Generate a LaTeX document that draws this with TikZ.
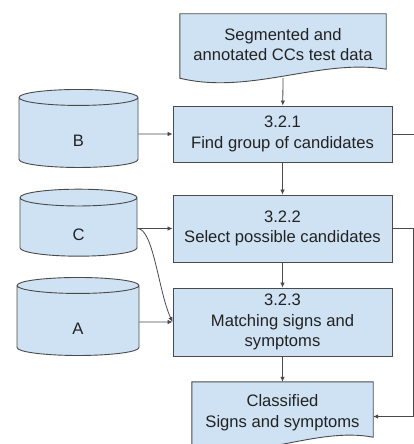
\documentclass[tikz,border=0pt]{standalone}
\usepackage{fontspec}
\setmainfont{Liberation Sans}
\usetikzlibrary{
    backgrounds,
    arrows.meta,
    calc,
    shapes.geometric
}

\definecolor{boxblue}{HTML}{CFE2F3}
\definecolor{linegray}{HTML}{4A4A4A}
\definecolor{textgray}{HTML}{222222}

\tikzset{
    proc/.style={rectangle, draw=linegray, fill=boxblue, line width=0.9pt,
        minimum width=219pt, align=center, text=textgray, inner sep=0pt},
    store/.style={cylinder, shape border rotate=90, aspect=0.9, draw=linegray,
        fill=boxblue, line width=0.9pt, text=textgray, text height=24pt},
    doc/.style={rectangle, minimum height=61pt, align=center, text=textgray, inner sep=0pt},
    docline/.style={draw=linegray, fill=boxblue, line width=0.9pt},
    flow/.style={draw=linegray, line width=0.8pt, -{Latex[length=5pt,width=4.5pt]}},
    plain/.style={draw=linegray, line width=0.8pt}
}

% document shape: flat top, wavy bottom edge
\newcommand{\docoutline}[1]{%
  \path[docline] (#1.north west) -- (#1.north east) -- ([yshift=6pt]#1.south east)
    .. controls ($(#1.south west)!0.68!(#1.south east)+(0,17pt)$)
       and ($(#1.south west)!0.34!(#1.south east)+(0,-20pt)$)
    .. ([yshift=-3pt]#1.south west) -- cycle;}

\begin{document}
\begin{tikzpicture}[x=1pt, y=-1pt, font=\fontsize{16.6}{20.5}\selectfont]
      \useasboundingbox (0,0) rectangle (414,444);

      % processes
      \node[proc, minimum height=56pt] (find) at (282.5,134) {3.2.1\\Find group of candidates};
      \node[proc, minimum height=67pt] (select) at (282.5,228.5) {3.2.2\\Select possible candidates};
      \node[proc, minimum height=68pt] (match) at (282.5,322) {3.2.3\\Matching signs and\\symptoms};

      % input and output documents
      \node[doc, minimum width=206pt] (testdata) at (283,44.5) {Segmented and\\annotated CCs test data};
      \node[doc, minimum width=181pt] (result) at (282.5,412.5) {Classified\\Signs and symptoms};
      \begin{scope}[on background layer]
        \docoutline{testdata}
        \docoutline{result}
      \end{scope}

      % data stores
      \node[store, minimum width=119pt, minimum height=78pt] (storeB) at (78.5,134) {B};
      \node[store, minimum width=117pt, minimum height=67pt] (storeC) at (78.5,228.5) {C};
      \node[store, minimum width=122pt, minimum height=78pt] (storeA) at (78,322) {A};

      \coordinate (outR) at (414,134);
      \coordinate (loopR) at (413,228.5);

      % main flow
      \draw[flow] ([yshift=-3pt]testdata.south) -- (find);
      \draw[flow] (find) -- (select);
      \draw[flow] (select) -- (match);
      \draw[flow] (match) -- (result);

      \draw[flow] (storeB) -- (find);
      \draw[flow] (storeC) -- (select);
      \draw[flow] (storeA) -- (match);
      \draw[flow] (storeC.east) .. controls +(16,0) and +(-14,-30) .. (match.west);

      \draw[plain] (find.east) -- (outR);
      \draw[flow] (select.east) -- (loopR) |- ([yshift=-4pt]result.east);
    \end{tikzpicture}
\end{document}
